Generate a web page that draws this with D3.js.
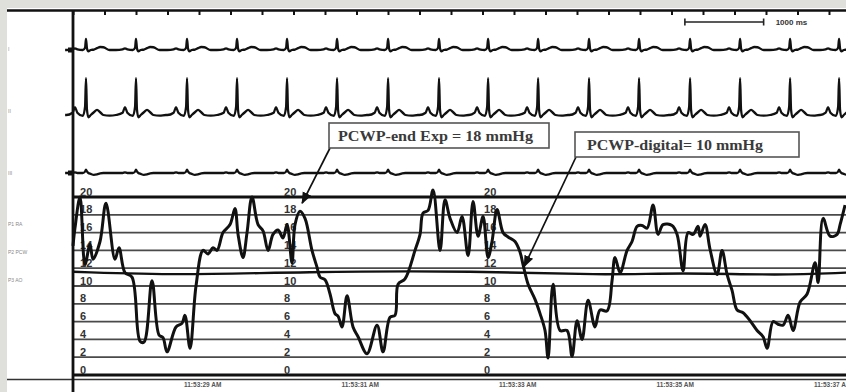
<!DOCTYPE html>
<meta charset="utf-8">
<script src="https://d3js.org/d3.v7.min.js"></script>
<style>
  body { margin: 0; background: #dfe0db; }
  svg { display: block; }
</style>
<div id="my_dataviz"></div>
<script>

// ---- values (time in s from the left edge, pressure in mmHg) ----
var beatTimes = [0.165, 0.800, 1.448, 2.083, 2.718, 3.353, 4.001, 4.648, 5.271, 5.906,
                 6.553, 7.188, 7.836, 8.471, 9.106, 9.728];

// one heart beat, offsets from the R wave (s) and amplitudes (mV) for each lead
var tplOffset = [-0.25, -0.17, -0.14, -0.11, -0.04, -0.012, 0, 0.012, 0.03, 0.06, 0.10, 0.14, 0.18, 0.22, 0.30, 0.38];
var leadI     = [0, 0.03, 0.07, 0.03, 0, 0.10, 0.48, 0.08, -0.06, 0, 0.02, 0.08, 0.13, 0.12, 0, 0];
var leadII    = [0, 0.10, 0.34, 0.10, -0.04, 0.35, 1.6, 0.25, -0.10, 0, 0.12, 0.22, 0.12, 0, -0.03, 0];
var leadIII   = [0, 0, 0.03, 0, 0, 0.06, 0.15, 0.07, 0, -0.04, -0.08, -0.06, -0.02, 0, 0, 0];

var pcwTime = [0, 0.025, 0.089, 0.152, 0.216, 0.254, 0.343, 0.419, 0.533, 0.584, 0.660, 0.749, 0.851, 0.902,
  1.003, 1.092, 1.143, 1.194, 1.308, 1.384, 1.422, 1.486, 1.562, 1.651, 1.715, 1.778, 1.829, 1.905,
  1.994, 2.057, 2.096, 2.159, 2.210, 2.273, 2.350, 2.413, 2.477, 2.540, 2.604, 2.667, 2.718, 2.781,
  2.819, 2.883, 2.946, 3.035, 3.099, 3.137, 3.200, 3.264, 3.327, 3.366, 3.416, 3.480, 3.556, 3.620,
  3.734, 3.861, 3.937, 4.026, 4.089, 4.128, 4.216, 4.343, 4.407, 4.445, 4.509, 4.572, 4.661, 4.724,
  4.788, 4.877, 4.940, 5.017, 5.080, 5.144, 5.207, 5.271, 5.321, 5.385, 5.461, 5.525, 5.613, 5.677,
  5.715, 5.779, 5.867, 5.931, 5.994, 6.033, 6.096, 6.185, 6.274, 6.337, 6.401, 6.464, 6.541, 6.629,
  6.693, 6.782, 6.845, 6.883, 6.947, 7.036, 7.099, 7.163, 7.226, 7.290, 7.366, 7.430, 7.493, 7.607,
  7.671, 7.747, 7.811, 7.874, 7.938, 7.963, 8.026, 8.090, 8.179, 8.242, 8.306, 8.369, 8.433, 8.509,
  8.598, 8.687, 8.763, 8.814, 8.890, 8.954, 9.017, 9.081, 9.144, 9.233, 9.322, 9.423, 9.462, 9.525,
  9.614, 9.703, 9.741, 9.804];
var pcwValue = [14.5, 16.5, 20, 12.4, 14.7, 13.0, 15.0, 19.3, 13.0, 14.3, 11.5, 11.0, 3.8, 3.7,
  10.6, 4.5, 4.2, 2.6, 5.4, 5.8, 6.7, 3.0, 10.0, 14.0, 13.6, 14.3, 14.0, 16.0,
  16.9, 18.7, 15.8, 13.2, 16.0, 20.0, 16.9, 16.2, 14.0, 15.8, 16.3, 15.4, 16.9, 12.6,
  16.9, 18.4, 17.6, 14.0, 12.1, 11.0, 10.7, 9.1, 6.9, 6.6, 5.4, 8.9, 5.4, 4.3,
  2.4, 5.6, 2.6, 6.5, 6.7, 10.2, 10.8, 14.0, 15.8, 18.2, 18.5, 20.8, 14.0, 19.7,
  17.6, 16.0, 17.8, 13.4, 19.5, 15.6, 17.8, 13.2, 15.0, 18.6, 16.0, 15.5, 15.0, 13.8,
  12.4, 10.2, 8.5, 6.9, 5.0, 1.9, 10.2, 5.0, 5.0, 2.1, 6.1, 4.0, 8.4, 5.4,
  7.3, 7.2, 10.6, 13.2, 11.5, 14.0, 15.0, 16.7, 16.8, 16.5, 19.1, 15.8, 16.9, 16.8,
  15.8, 11.7, 16.0, 15.8, 16.7, 15.6, 16.9, 14.1, 11.3, 14.0, 11.3, 9.5, 7.3, 7.0,
  6.1, 5.0, 4.3, 3.0, 6.0, 5.7, 5.6, 6.7, 5.0, 8.2, 9.1, 12.6, 10.4, 17.6,
  15.6, 15.8, 16.9, 19.1];

// digital mean PCW line
var meanTime  = [0, 1.36, 2.88, 5.17, 6.69, 7.71, 8.98, 9.82];
var meanValue = [11.6, 11.2, 11.6, 11.7, 11.2, 11.5, 11.2, 11.5];

var gridValues = [0, 2, 4, 6, 8, 10, 12, 14, 16, 18, 20];
var gridLabelTimes = [0.09, 2.68, 5.22];
var timeTicks = [1.64, 3.64, 5.64, 7.64, 9.64];
var timeLabels = ["11:53:29 AM", "11:53:31 AM", "11:53:33 AM", "11:53:35 AM", "11:53:37 AM"];
var channelNames = ["I", "II", "III", "P1 RA", "P2 PCW", "P3 AO"];
var annotationText = ["PCWP-end Exp = 18 mmHg", "PCWP-digital= 10 mmHg"];
var annotationTarget = [[2.91, 19.3], [5.73, 12.2]];

// ---- drawing ----
var width = 846, height = 392;

var svg = d3.select("#my_dataviz")
  .append("svg")
    .attr("width", width)
    .attr("height", height);

svg.append("defs").append("clipPath").attr("id", "panel")
  .append("rect").attr("x", 7).attr("y", 8).attr("width", 839).attr("height", 384);

svg.append("rect")
  .attr("x", 7).attr("y", 8).attr("width", 839).attr("height", 384)
  .attr("fill", "#fff");

var root = svg.append("g").attr("clip-path", "url(#panel)");

var x = d3.scaleLinear().domain([0, 9.816]).range([73, 846]);
var y = d3.scaleLinear().domain([0, 20]).range([375, 197]);

// grid lines of the pressure scale
root.selectAll(".grid")
  .data(gridValues)
  .enter()
  .append("line")
    .attr("x1", 73).attr("x2", 846)
    .attr("y1", function(d) { return y(d) })
    .attr("y2", function(d) { return y(d) })
    .style("stroke", function(d) { return (d == 0 || d == 20) ? "#111" : "#4a4a4a" })
    .style("stroke-width", function(d) { return (d == 0 || d == 20) ? 2.8 : 1.8 });

// grid labels (three columns)
gridLabelTimes.forEach(function(t) {
  root.selectAll(null)
    .data(gridValues)
    .enter()
    .append("text")
      .attr("x", x(t))
      .attr("y", function(d) { return y(d) - 1.5 })
      .text(function(d) { return d })
      .style("font-family", "Liberation Sans, Arial, sans-serif")
      .style("font-size", "11px")
      .style("font-weight", "bold")
      .style("fill", "#333");
});

// top time marker row
root.append("line")
  .attr("x1", 7).attr("x2", 846).attr("y1", 10.5).attr("y2", 10.5)
  .style("stroke", "#111").style("stroke-width", 2.4);
var topAxis = root.append("g")
  .attr("transform", "translate(0,10)")
  .call(d3.axisBottom(x).tickValues(d3.range(0, 9.8, 0.4)).tickSize(5).tickSizeOuter(0).tickFormat(""));
topAxis.select(".domain").remove();
topAxis.selectAll("line").style("stroke", "#111").style("stroke-width", 2);

// scale bar
var bar = root.append("g").attr("transform", "translate(0,22)");
bar.append("line").attr("x1", x(7.77)).attr("x2", x(8.77))
  .style("stroke", "#222").style("stroke-width", 1.6);
[7.77, 8.77].forEach(function(t) {
  bar.append("line").attr("x1", x(t)).attr("x2", x(t)).attr("y1", -3.5).attr("y2", 3.5)
    .style("stroke", "#222").style("stroke-width", 1.6);
});
bar.append("text").attr("x", x(8.77) + 12).attr("y", 3)
  .text("1000 ms")
  .style("font-family", "Liberation Sans, Arial, sans-serif")
  .style("font-size", "8px").style("font-weight", "bold").style("fill", "#333");

// ECG leads
function leadPoints(amp) {
  var pts = [];
  beatTimes.forEach(function(b) {
    tplOffset.forEach(function(o, i) { pts.push([b + o, amp[i]]) });
  });
  pts.push([-0.1, 0]); pts.push([9.95, 0]);
  pts.sort(function(a, b) { return a[0] - b[0] });
  var out = [];
  pts.forEach(function(p) {
    if (!out.length || p[0] - out[out.length - 1][0] > 0.006) out.push(p);
  });
  return out;
}
[[leadI, 50], [leadII, 115], [leadIII, 173]].forEach(function(l) {
  var ly = d3.scaleLinear().domain([0, 1]).range([l[1], l[1] - 23]);
  root.append("path")
    .datum(leadPoints(l[0]))
    .attr("d", d3.line()
      .x(function(d) { return x(d[0]) })
      .y(function(d) { return ly(d[1]) })
      .curve(d3.curveMonotoneX))
    .style("fill", "none").style("stroke", "#111")
    .style("stroke-width", 2.3).style("stroke-linejoin", "round");
});
[50, 173].forEach(function(b) {
  root.append("rect").attr("x", 68).attr("y", b - 2.5).attr("width", 5).attr("height", 5).style("fill", "#111");
});

// digital mean line
root.append("path")
  .datum(d3.zip(meanTime, meanValue))
  .attr("d", d3.line()
    .x(function(d) { return x(d[0]) })
    .y(function(d) { return y(d[1]) })
    .curve(d3.curveBasis))
  .style("fill", "none").style("stroke", "#111").style("stroke-width", 2.4);

// PCW pressure trace
root.append("path")
  .datum(d3.zip(pcwTime, pcwValue))
  .attr("d", d3.line()
    .x(function(d) { return x(d[0]) })
    .y(function(d) { return y(d[1]) })
    .curve(d3.curveCatmullRom.alpha(0.5)))
  .style("fill", "none").style("stroke", "#111")
  .style("stroke-width", 3).style("stroke-linejoin", "round");

// bottom frame and time labels
var bottomAxis = root.append("g")
  .attr("transform", "translate(0,379.5)")
  .call(d3.axisBottom(x).tickValues(timeTicks).tickSize(0).tickPadding(3)
    .tickFormat(function(d, i) { return timeLabels[i] }));
bottomAxis.select(".domain").attr("d", "M7,0H846").style("stroke", "#333").style("stroke-width", 1.4);
bottomAxis.selectAll("text")
  .style("font-family", "Liberation Sans, Arial, sans-serif")
  .style("font-size", "6.5px").style("font-weight", "bold").style("fill", "#555");

// vertical axis line
root.append("line").attr("x1", 73).attr("x2", 73).attr("y1", 10).attr("y2", 392)
  .style("stroke", "#111").style("stroke-width", 2.8);

// channel labels on the left
var chanY = [51, 113, 175, 226, 254, 282];
root.selectAll(".chan")
  .data(channelNames)
  .enter()
  .append("text")
    .attr("x", 8)
    .attr("y", function(d, i) { return chanY[i] })
    .text(function(d) { return d })
    .style("font-family", "Liberation Sans, Arial, sans-serif")
    .style("font-size", "5px").style("fill", "#888");

// annotation boxes with arrows
svg.append("defs").append("marker")
  .attr("id", "arrow").attr("viewBox", "0 0 10 10").attr("refX", 9).attr("refY", 5)
  .attr("markerWidth", 7).attr("markerHeight", 7).attr("orient", "auto")
  .append("path").attr("d", "M0,1L10,5L0,9z").style("fill", "#111");

var boxes = [{x: 329, y: 123, w: 220, h: 25, tx: 338, tw: 195}, {x: 575, y: 132, w: 224, h: 25, tx: 587, tw: 176}];
boxes.forEach(function(b, i) {
  root.append("line")
    .attr("x1", b.x + 1).attr("y1", b.y + b.h)
    .attr("x2", x(annotationTarget[i][0])).attr("y2", y(annotationTarget[i][1]))
    .style("stroke", "#111").style("stroke-width", 1.7)
    .attr("marker-end", "url(#arrow)");
  root.append("rect")
    .attr("x", b.x).attr("y", b.y).attr("width", b.w).attr("height", b.h)
    .style("fill", "#fff").style("stroke", "#555").style("stroke-width", 1.6);
  root.append("text")
    .attr("x", b.tx).attr("y", b.y + 18)
    .attr("textLength", b.tw).attr("lengthAdjust", "spacingAndGlyphs")
    .text(annotationText[i])
    .style("font-family", "Liberation Serif, Times New Roman, serif")
    .style("font-size", "14px").style("font-weight", "bold").style("fill", "#3a3a3a");
});

</script>
